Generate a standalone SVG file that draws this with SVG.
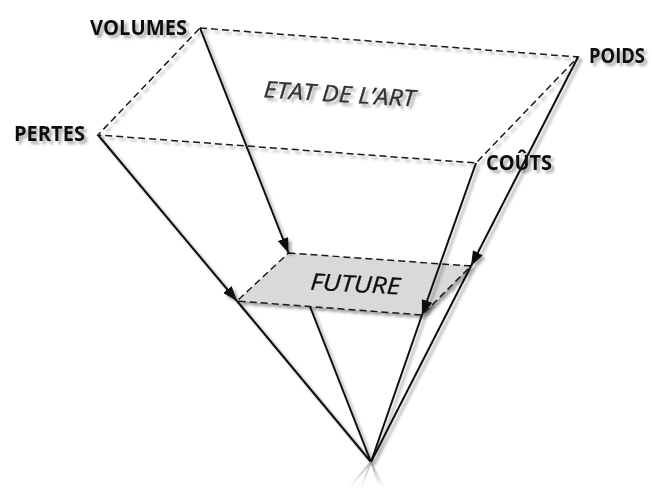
<svg xmlns="http://www.w3.org/2000/svg" width="652" height="488" viewBox="0 0 652 488">
  <defs>
    <style>
      .lbl { font-family: "Open Sans", "Liberation Sans", sans-serif; font-weight: 700; font-size: 21px; fill: #111; }
      .ital { font-family: "Open Sans", "Liberation Sans", sans-serif; font-style: italic; font-size: 23px; }
      .dash { stroke: #1a1a1a; stroke-width: 1.5; stroke-dasharray: 7 4; }
      .solid { fill: none; stroke: #111; stroke-width: 2; }
      .refl { fill: none; stroke: url(#fade); stroke-width: 2; }
    </style>
    <filter id="sh" x="-20%" y="-20%" width="140%" height="140%">
      <feDropShadow dx="3" dy="3" stdDeviation="1.8" flood-color="#000" flood-opacity="0.35"/>
    </filter>
    <marker id="arr" markerUnits="userSpaceOnUse" markerWidth="15" markerHeight="11" refX="15" refY="5.5" orient="auto">
      <path d="M0,0 L15,5.5 L0,11 z" fill="#111"/>
    </marker>
    <linearGradient id="fade" gradientUnits="userSpaceOnUse" x1="0" y1="462" x2="0" y2="488">
      <stop offset="0" stop-color="#888" stop-opacity="0.55"/>
      <stop offset="1" stop-color="#888" stop-opacity="0"/>
    </linearGradient>
  </defs>

  <g id="etat-de-l-art" filter="url(#sh)">
    <polygon class="dash" points="200,28 578,57 476,163 98,135" fill="none"/>
    <text class="ital" x="339" y="102" text-anchor="middle" fill="#333" stroke="#333" stroke-width="0.3" transform="rotate(3.5 339 102)" textLength="152" lengthAdjust="spacingAndGlyphs">ETAT DE L’ART</text>
  </g>

  <g id="future" filter="url(#sh)">
    <polygon class="dash" points="288.5,253 471,266 422,315 237,301" fill="#d9d9d9"/>
    <text class="ital" x="355" y="292" text-anchor="middle" fill="#111" stroke="#111" stroke-width="0.3" transform="rotate(3 355 292)" textLength="90" lengthAdjust="spacingAndGlyphs">FUTURE</text>
  </g>

  <g id="connectors" filter="url(#sh)">
    <line class="solid" x1="200" y1="28" x2="288.5" y2="253" marker-end="url(#arr)"/>
    <line class="solid" x1="310" y1="306.5" x2="371" y2="462"/>
    <line class="solid" x1="98" y1="135" x2="237" y2="301" marker-end="url(#arr)"/>
    <line class="solid" x1="237" y1="301" x2="371" y2="462"/>
    <line class="solid" x1="476" y1="163" x2="422" y2="315" marker-end="url(#arr)"/>
    <line class="solid" x1="422" y1="315" x2="371" y2="462"/>
    <line class="solid" x1="578" y1="57" x2="471" y2="266" marker-end="url(#arr)"/>
    <line class="solid" x1="471" y1="266" x2="371" y2="462"/>
  </g>

  <g id="reflection">
    <line class="refl" x1="371" y1="462" x2="361" y2="488"/>
    <line class="refl" x1="371" y1="462" x2="349" y2="488"/>
    <line class="refl" x1="371" y1="462" x2="380" y2="488"/>
    <line class="refl" x1="371" y1="462" x2="384" y2="488"/>
  </g>

  <g id="node-volumes" filter="url(#sh)">
    <text class="lbl" x="90" y="35" textLength="97" lengthAdjust="spacingAndGlyphs">VOLUMES</text>
  </g>
  <g id="node-poids" filter="url(#sh)">
    <text class="lbl" x="589" y="63" textLength="56" lengthAdjust="spacingAndGlyphs">POIDS</text>
  </g>
  <g id="node-pertes" filter="url(#sh)">
    <text class="lbl" x="14" y="141" textLength="71" lengthAdjust="spacingAndGlyphs">PERTES</text>
  </g>
  <g id="node-couts" filter="url(#sh)">
    <text class="lbl" x="486" y="170" textLength="66" lengthAdjust="spacingAndGlyphs">COÛTS</text>
  </g>
</svg>
